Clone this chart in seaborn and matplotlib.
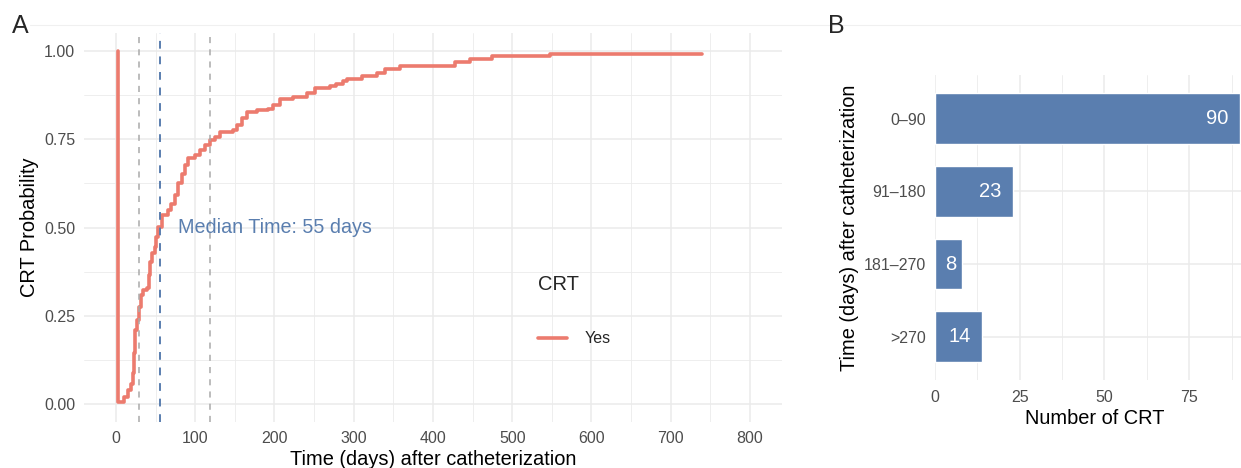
"""Time to CRT after catheterization: cumulative probability (A) and counts by window (B)."""
import matplotlib
matplotlib.use("Agg")
import matplotlib.pyplot as plt
from matplotlib.lines import Line2D
from matplotlib.ticker import FormatStrFormatter, MultipleLocator
import pandas as pd
import seaborn as sns

# ---- data ------------------------------------------------------------------
# panel A: step curve (time in days, cumulative CRT probability)
crt_days = [2, 2, 10, 15, 19, 21, 22.5, 24, 27, 29, 31, 34.5, 38.7, 42, 43.5,
            46, 49, 51, 53, 57.5, 66, 70, 74, 78.5, 83, 87, 91, 99.5, 106,
            112, 118.5, 125, 131, 148, 153, 158.5, 165, 177.5, 192, 198.5,
            207, 224, 240.5, 251, 270, 278, 287, 291, 310, 329, 339, 358,
            428, 447, 474, 548, 740]
crt_prob = [1.0, 0.007, 0.021, 0.040, 0.058, 0.087, 0.144, 0.210, 0.238,
            0.276, 0.309, 0.323, 0.328, 0.365, 0.403, 0.427, 0.446, 0.474,
            0.502, 0.535, 0.549, 0.568, 0.592, 0.625, 0.653, 0.677, 0.696,
            0.705, 0.719, 0.734, 0.748, 0.757, 0.771, 0.776, 0.790, 0.809,
            0.828, 0.833, 0.837, 0.847, 0.863, 0.870, 0.880, 0.894, 0.900,
            0.906, 0.916, 0.920, 0.929, 0.937, 0.948, 0.957, 0.970, 0.977,
            0.986, 0.993, 0.993]
quartile_days = [29, 119]
median_day = 55

# panel B: number of CRT per time window
windows = ["0\u201390", "91\u2013180", "181\u2013270", ">270"]
n_crt = [90, 23, 8, 14]

RED = "#EC7B6E"
BLUE = "#5A7EAF"
GRID = "#EBEBEB"
TICK = "#4D4D4D"

sns.set_theme(style="whitegrid")
plt.rcParams["font.family"] = ["Liberation Sans", "DejaVu Sans"]
plt.rcParams["axes.edgecolor"] = "white"

fig = plt.figure(figsize=(12.41, 4.68), dpi=100)
ax_a = fig.add_axes([0.0679, 0.0991, 0.5620, 0.8295])
ax_b = fig.add_axes([0.7534, 0.1874, 0.2466, 0.6523])


def _style(ax):
    ax.set_facecolor("white")
    for s in ax.spines.values():
        s.set_visible(False)
    ax.grid(which="major", color=GRID, linewidth=1.1)
    ax.grid(which="minor", color=GRID, linewidth=0.6)
    ax.tick_params(which="minor", length=0)
    ax.tick_params(which="major", labelsize=11.5, labelcolor=TICK)


# ---- panel A ---------------------------------------------------------------
curve = pd.DataFrame({"days": crt_days, "prob": crt_prob, "CRT": "Yes"})
sns.lineplot(data=curve, x="days", y="prob", hue="CRT", palette={"Yes": RED},
             estimator=None, sort=False, drawstyle="steps-post",
             linewidth=2.6, ax=ax_a)
for d in quartile_days:
    ax_a.axvline(d, color="#AAAAAA", linestyle=(0, (4, 4)), linewidth=1.1)
ax_a.axvline(median_day, color=BLUE, linestyle=(0, (4, 4)), linewidth=1.4)
ax_a.text(median_day + 23, 0.5, f"Median Time: {median_day} days",
          color=BLUE, fontsize=14.2, va="center", ha="left")

_style(ax_a)
ax_a.set_xlim(-40, 840)
ax_a.set_ylim(-0.05, 1.05)
ax_a.xaxis.set_major_locator(MultipleLocator(100))
ax_a.xaxis.set_minor_locator(MultipleLocator(50))
ax_a.yaxis.set_major_locator(MultipleLocator(0.25))
ax_a.yaxis.set_minor_locator(MultipleLocator(0.125))
ax_a.yaxis.set_major_formatter(FormatStrFormatter("%.2f"))
ax_a.tick_params(which="major", length=3.5, width=1.2, color="#333333", pad=3)
ax_a.set_xlabel("Time (days) after catheterization", fontsize=14.4,
                labelpad=3, color="black")
ax_a.set_ylabel("CRT Probability", fontsize=14.4, labelpad=4, color="black")

leg = ax_a.legend(title="CRT", loc="upper left", bbox_to_anchor=(0.63, 0.415),
                  frameon=False, fontsize=11.5, title_fontsize=14.5,
                  handlelength=1.8, handletextpad=1.1, labelspacing=2.35)
leg._legend_box.align = "left"
for h in leg.get_lines():
    h.set_linewidth(2.6)

# ---- panel B ---------------------------------------------------------------
counts = pd.DataFrame({"window": windows, "n": n_crt})
sns.barplot(data=counts, x="n", y="window", orient="h", color=BLUE,
            saturation=1, width=0.7, ax=ax_b)
# labels sit inside the bar end, pushed in by about half their own width
for i, n in enumerate(n_crt):
    ax_b.annotate(str(n), xy=(n, i), xytext=(-4.2 * len(str(n)), 0),
                  textcoords="offset points", color="white", fontsize=14.5,
                  ha="right", va="center")

_style(ax_b)
ax_b.set_xlim(0, 90.3)
ax_b.set_ylim(3.6, -0.6)
ax_b.xaxis.set_major_locator(MultipleLocator(25))
ax_b.xaxis.set_minor_locator(MultipleLocator(12.5))
ax_b.tick_params(which="major", length=0)
ax_b.tick_params(axis="y", pad=6.5)
ax_b.tick_params(axis="x", pad=7)
ax_b.grid(axis="y", which="minor", visible=False)
ax_b.set_xlabel("Number of CRT", fontsize=14.4, labelpad=3, color="black",
                x=0.523)
ax_b.set_ylabel("Time (days) after catheterization", fontsize=14.4,
                labelpad=3.5, color="black")

# panel tags
fig.text(0.0097, 0.945, "A", fontsize=18, ha="left", va="center")
fig.text(0.667, 0.945, "B", fontsize=18, ha="left", va="center")
fig.add_artist(Line2D([0.024, 1.0], [0.947, 0.947], color="#F0F0F0",
                      linewidth=0.8))

fig.savefig("out.png", dpi=100)
